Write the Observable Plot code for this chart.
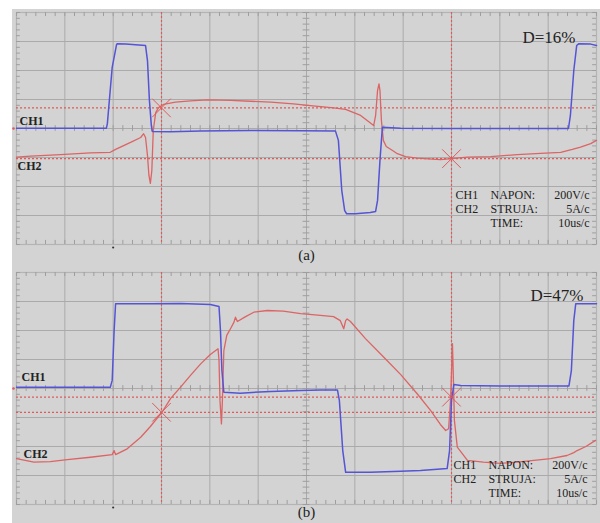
<!DOCTYPE html>
<html><head><meta charset="utf-8">
<script src="https://cdn.jsdelivr.net/npm/d3@7"></script>
<script src="https://cdn.jsdelivr.net/npm/@observablehq/plot@0.6"></script>
<style>
body{margin:0;background:#fff;}
#wrap{position:relative;width:600px;height:523px;overflow:hidden;}
#bg{position:absolute;left:12px;top:9px;width:588px;height:514px;background:#d3d3d3;}
#a{position:absolute;left:0;top:0;}
#b{position:absolute;left:0;top:260px;}
</style></head><body>
<div id="wrap"><div id="bg"></div><div id="a"></div><div id="b"></div></div>
<script>
// x: time in divisions (10 us/div), y: divisions (0 = bottom graticule, 4 = centre)
const ch1A = [[0,4.01],[1.86,4.01],[1.88,4.17],[1.98,6.11],[2.07,6.89],[2.08,6.92],[2.26,6.91],[2.46,6.89],[2.67,6.86],[2.71,6.34],[2.75,4.97],[2.79,4.10],[2.81,3.90],[3.19,3.89],[3.81,3.91],[4.84,3.93],[5.88,3.92],[6.60,3.91],[6.66,3.59],[6.73,1.86],[6.79,1.17],[6.83,1.06],[7.01,1.06],[7.32,1.10],[7.43,1.14],[7.47,1.52],[7.52,2.90],[7.57,4.04],[7.95,4.01],[8.98,4.0],[10.01,4.0],[11.42,4.0],[11.46,4.45],[11.53,6.0],[11.59,6.86],[11.63,6.92],[11.88,6.91],[12.0,6.86]];
const ch2A = [[0,3.01],[0.29,3.05],[0.91,3.10],[1.53,3.16],[1.94,3.18],[2.05,3.28],[2.15,3.36],[2.36,3.52],[2.57,3.69],[2.63,3.82],[2.67,3.69],[2.71,3.07],[2.74,2.38],[2.77,2.11],[2.80,2.55],[2.83,3.93],[2.88,4.55],[2.94,4.72],[3.04,4.83],[3.29,4.91],[3.60,4.95],[3.95,4.99],[4.43,4.97],[4.84,4.94],[5.26,4.91],[5.73,4.85],[6.08,4.79],[6.56,4.71],[6.81,4.66],[7.12,4.45],[7.39,4.10],[7.43,4.45],[7.47,5.31],[7.50,5.54],[7.52,5.31],[7.55,4.28],[7.59,3.59],[7.65,3.38],[7.78,3.24],[7.88,3.13],[8.05,3.03],[8.29,2.98],[8.77,2.93],[9.33,3.01],[9.81,3.03],[10.36,3.10],[10.84,3.14],[11.26,3.18],[11.50,3.28],[11.67,3.36],[11.88,3.48],[12.0,3.59]];
const ch1B = [[0,4.04],[1.94,4.04],[1.98,4.28],[2.02,6.0],[2.05,6.92],[2.77,6.92],[3.39,6.93],[4.01,6.90],[4.19,6.83],[4.22,6.0],[4.25,4.62],[4.29,3.87],[4.63,3.84],[5.26,3.90],[5.88,3.93],[6.29,3.95],[6.64,3.95],[6.68,3.59],[6.75,1.86],[6.81,1.11],[7.32,1.11],[7.95,1.15],[8.36,1.17],[8.91,1.24],[8.96,1.86],[9.00,3.59],[9.05,4.14],[9.19,4.10],[10.01,4.09],[10.84,4.09],[11.43,4.09],[11.48,4.62],[11.53,6.34],[11.57,6.92],[12,6.92]];
const ch2B = [[0,1.58],[0.36,1.46],[0.70,1.48],[1.05,1.55],[1.53,1.63],[1.98,1.72],[2.02,1.86],[2.05,1.72],[2.29,1.92],[2.57,2.32],[2.77,2.69],[3.01,3.18],[3.19,3.66],[3.39,4.04],[3.60,4.45],[3.81,4.85],[4.01,5.17],[4.17,5.37],[4.19,4.97],[4.21,3.59],[4.24,2.78],[4.26,3.59],[4.29,5.31],[4.35,5.83],[4.43,6.07],[4.50,6.29],[4.53,6.46],[4.57,6.31],[4.74,6.48],[4.91,6.63],[5.19,6.69],[5.52,6.67],[5.88,6.58],[6.29,6.52],[6.56,6.48],[6.70,6.34],[6.77,6.06],[6.81,6.34],[6.84,6.40],[6.91,6.31],[7.22,5.72],[7.60,5.08],[7.95,4.48],[8.29,3.82],[8.57,3.24],[8.77,2.76],[8.88,2.55],[8.94,2.61],[8.98,3.59],[9.02,5.55],[9.04,4.28],[9.06,2.90],[9.12,1.98],[9.33,1.52],[9.66,1.46],[10.01,1.42],[10.36,1.46],[11.05,1.58],[11.39,1.69],[11.53,1.79],[11.60,1.86],[11.78,2.00],[11.98,2.21]];
// cursors
const cursorXA = [3, 9];
const cursorYA = [4.71, 2.96];
const crossA = [[3, 4.71], [9, 2.96]];
const cursorXB = [3, 9];
const cursorYB = [3.70, 3.18];
const crossB = [[3, 3.18], [9, 3.70]];
const dutyA = "D=16%";
const dutyB = "D=47%";
const legendCh = ["CH1", "CH2"];
const legendName = ["NAPON:", "STRUJA:", "TIME:"];
const legendVal = ["200V/c", "5A/c", "10us/c"];

const BLUE = "#5454d6", RED = "#dc6464", RDOT = "#e05a5a";
const GRID = "#aaaaaa", TICK = "#9e9e9e";
const FONT = "'Liberation Serif', 'DejaVu Serif', serif";

function panel(o) {
  const mx = d3.range(0, 12.001, 0.2);
  const my = d3.range(0, 8.001, 0.2);
  const fb = o.marginBottom;
  return Plot.plot({
    width: 600, height: o.height,
    marginLeft: 16, marginRight: 4, marginTop: 12, marginBottom: fb,
    x: {domain: [0, 12], axis: null},
    y: {domain: [0, 8], axis: null},
    style: {background: "transparent", fontFamily: FONT, overflow: "visible"},
    marks: [
      Plot.ruleX(d3.range(1, 12), {stroke: GRID, strokeWidth: 1}),
      Plot.ruleY(d3.range(1, 8), {stroke: GRID, strokeWidth: 1}),
      Plot.frame({stroke: "#b4b4b4", strokeWidth: 1.2}),
      Plot.ruleX(mx, {y1: 8, y2: 7.86, stroke: TICK}),
      Plot.ruleX(mx, {y1: 0, y2: 0.14, stroke: TICK}),
      Plot.ruleX(mx, {y1: 3.9, y2: 4.1, stroke: TICK}),
      Plot.ruleY(my, {x1: 0, x2: 0.08, stroke: TICK}),
      Plot.ruleY(my, {x1: 12, x2: 11.92, stroke: TICK}),
      Plot.ruleY(my, {x1: 5.93, x2: 6.07, stroke: TICK}),
      Plot.ruleY(o.cy, {stroke: RDOT, strokeDasharray: "2,2", strokeWidth: 1.2}),
      Plot.ruleX(o.cx, {stroke: RDOT, strokeDasharray: "2,2", strokeWidth: 1.2}),
      Plot.line(o.ch2, {stroke: RED, strokeWidth: 1.3}),
      Plot.line(o.ch1, {stroke: BLUE, strokeWidth: 1.5}),
      Plot.dot(o.cross, {symbol: "times", r: 8.5, stroke: RDOT, strokeWidth: 1}),
      Plot.dot([[2, 0]], {r: 1.1, fill: "#333", stroke: null, dy: 3}),
      Plot.dot([[0, 4]], {r: 1.3, fill: RDOT, stroke: null, dx: -3}),
      Plot.text([o.duty], {frameAnchor: "top-right", textAnchor: "end", dx: o.dutyDx, dy: o.dutyDy, fontSize: 17, fill: "#222"}),
      Plot.text(["CH1"], {frameAnchor: "left", textAnchor: "start", dx: o.l1[0], dy: o.l1[1], fontSize: 12, fontWeight: "bold", fill: "#222"}),
      Plot.text(["CH2"], {frameAnchor: "left", textAnchor: "start", dx: o.l2[0], dy: o.l2[1], fontSize: 12, fontWeight: "bold", fill: "#222"}),
      ...legendCh.map((t, i) => Plot.text([t], {frameAnchor: "bottom-right", textAnchor: "start", dx: o.lg.c, dy: o.lg.rows[i], fontSize: 12, fill: "#222"})),
      ...legendName.map((t, i) => Plot.text([t], {frameAnchor: "bottom-right", textAnchor: "start", dx: o.lg.n, dy: o.lg.rows[i], fontSize: 12, fill: "#222"})),
      ...legendVal.map((t, i) => Plot.text([t], {frameAnchor: "bottom-right", textAnchor: "end", dx: o.lg.v, dy: o.lg.rows[i], fontSize: 12, fill: "#222"})),
      Plot.text([o.caption], {frameAnchor: "bottom", dy: o.capDy, fontSize: 15, fill: "#222"})
    ]
  });
}

document.getElementById("a").append(panel({
  height: 268, marginBottom: 24,
  ch1: ch1A, ch2: ch2A, cx: cursorXA, cy: cursorYA, cross: crossA,
  duty: dutyA, dutyDx: -21, dutyDy: 18,
  l1: [3, -7], l2: [1, 38],
  lg: {c: -141, n: -106, v: -7, rows: [-45.5, -31.5, -17.5]},
  caption: "(a)", capDy: 15
}));
document.getElementById("b").append(panel({
  height: 263, marginBottom: 19,
  ch1: ch1B, ch2: ch2B, cx: cursorXB, cy: cursorYB, cross: crossB,
  duty: dutyB, dutyDx: -13, dutyDy: 16,
  l1: [5, -11], l2: [7, 66],
  lg: {c: -143, n: -108, v: -9, rows: [-35.5, -21.5, -7.5]},
  caption: "(b)", capDy: 12
}));
</script>
</body></html>
